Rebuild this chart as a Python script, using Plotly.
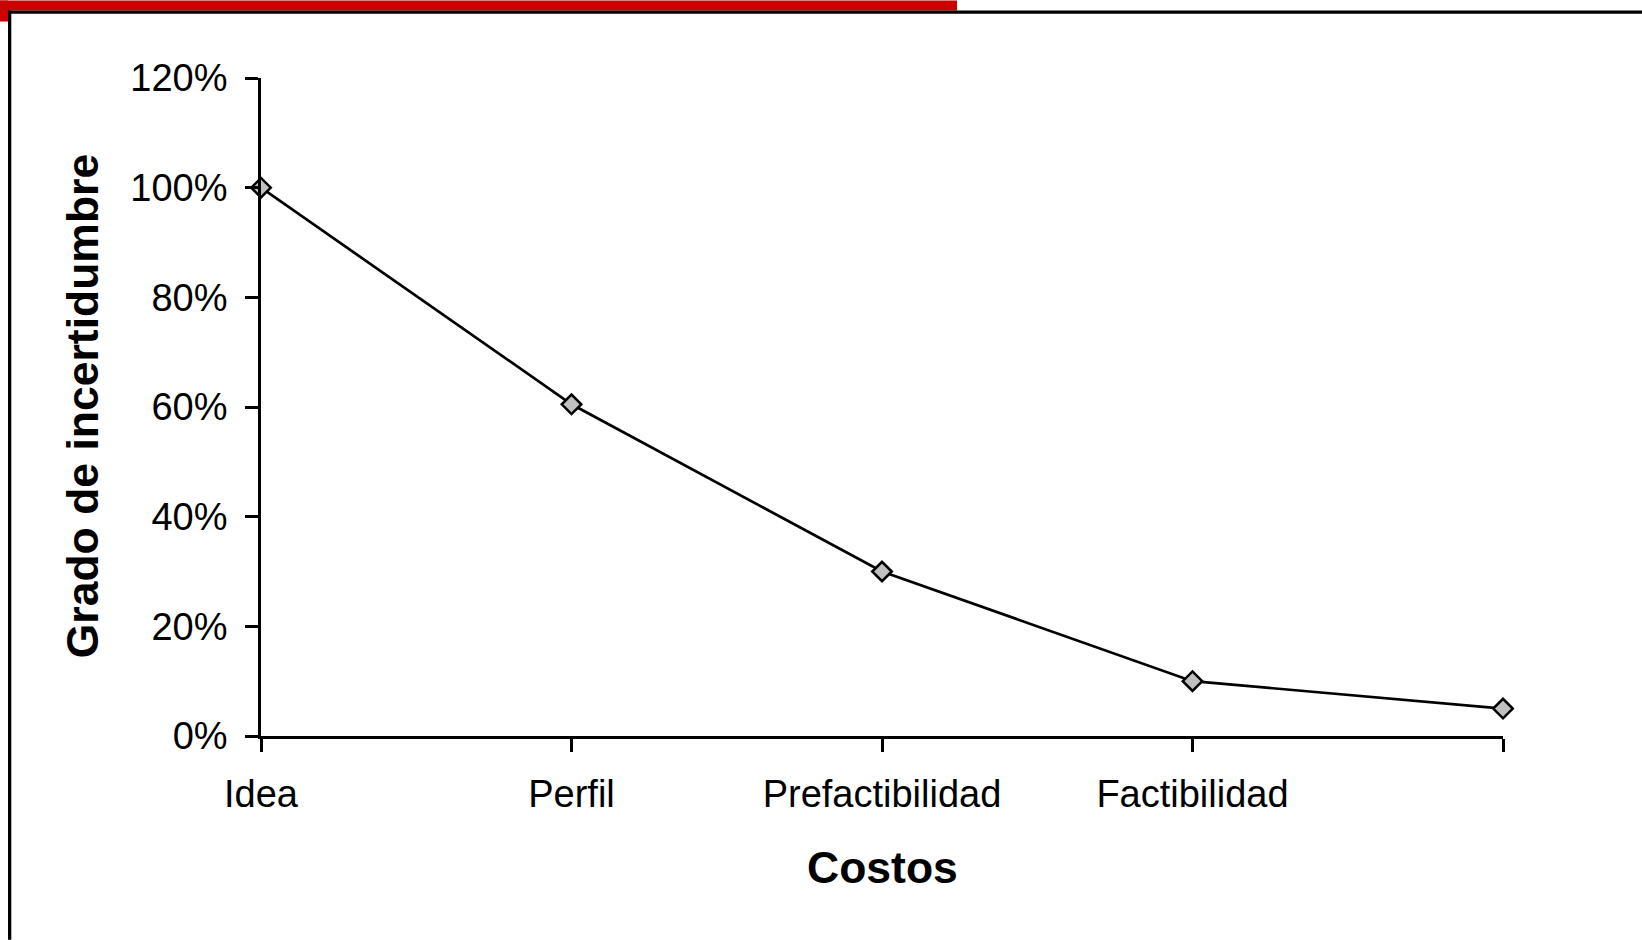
import plotly.graph_objects as go

categories = ["Idea", "Perfil", "Prefactibilidad", "Factibilidad", ""]
positions = [0, 1, 2, 3, 4]
values = [1.00, 0.605, 0.30, 0.10, 0.05]
y_ticks = [0, 0.2, 0.4, 0.6, 0.8, 1.0, 1.2]

W, H = 1642, 940
L, R, T, B = 261, 1503, 77.5, 736

def px(x):
    return (x - L) / (R - L)

def py(y):
    return (B - y) / (B - T)

fig = go.Figure()
fig.add_trace(go.Scatter(
    x=positions, y=values, mode="lines+markers",
    line=dict(color="black", width=2.7),
    marker=dict(symbol="diamond", size=15, color="#c0c0c0",
                line=dict(color="black", width=2.5)),
    cliponaxis=False, showlegend=False,
))

font = "Liberation Sans, Arial, sans-serif"
fig.update_layout(
    width=W, height=H,
    margin=dict(l=L, r=W - R, t=T, b=H - B),
    paper_bgcolor="white", plot_bgcolor="white",
    font=dict(family=font, color="black", size=38),
    xaxis=dict(range=[0, 4], tickvals=positions, ticktext=categories,
               showgrid=False, zeroline=False, showline=True,
               linecolor="black", linewidth=2.7, ticks="outside",
               ticklen=13, tickwidth=2.7, tickcolor="black",
               ticklabelstandoff=10,
               tickfont=dict(size=38, family=font)),
    yaxis=dict(range=[0, 1.2], tickvals=y_ticks, tickformat=".0%",
               showgrid=False, zeroline=False, showline=True,
               linecolor="black", linewidth=2.7, ticks="outside",
               ticklen=13, tickwidth=2.7, tickcolor="black",
               ticklabelstandoff=10,
               tickfont=dict(size=38, family=font)),
)

fig.add_annotation(text="<b>Costos</b>", xref="paper", yref="paper",
                   x=px(882), y=py(868), showarrow=False,
                   xanchor="center", yanchor="middle",
                   font=dict(size=44.5, family=font, color="black"))
fig.add_annotation(text="<b>Grado de incertidumbre</b>", xref="paper", yref="paper",
                   x=px(82), y=py(406), showarrow=False, textangle=-90,
                   xanchor="center", yanchor="middle",
                   font=dict(size=44.5, family=font, color="black"))

# decorative red band and frame
fig.add_shape(type="rect", xref="paper", yref="paper",
              x0=px(0), x1=px(957), y0=py(0), y1=py(10),
              fillcolor="#cc0000", line=dict(width=0), layer="above")
fig.add_shape(type="rect", xref="paper", yref="paper",
              x0=px(0), x1=px(8), y0=py(0), y1=py(21),
              fillcolor="#cc0000", line=dict(width=0), layer="above")
fig.add_shape(type="rect", xref="paper", yref="paper",
              x0=px(8), x1=px(W), y0=py(10), y1=py(13.3),
              fillcolor="black", line=dict(width=0), layer="above")
fig.add_shape(type="rect", xref="paper", yref="paper",
              x0=px(8), x1=px(11.3), y0=py(10), y1=py(H),
              fillcolor="black", line=dict(width=0), layer="above")

fig.write_html("out.html", config={"displayModeBar": False},
               post_script="document.body.style.margin='0';document.body.style.overflow='hidden';")
